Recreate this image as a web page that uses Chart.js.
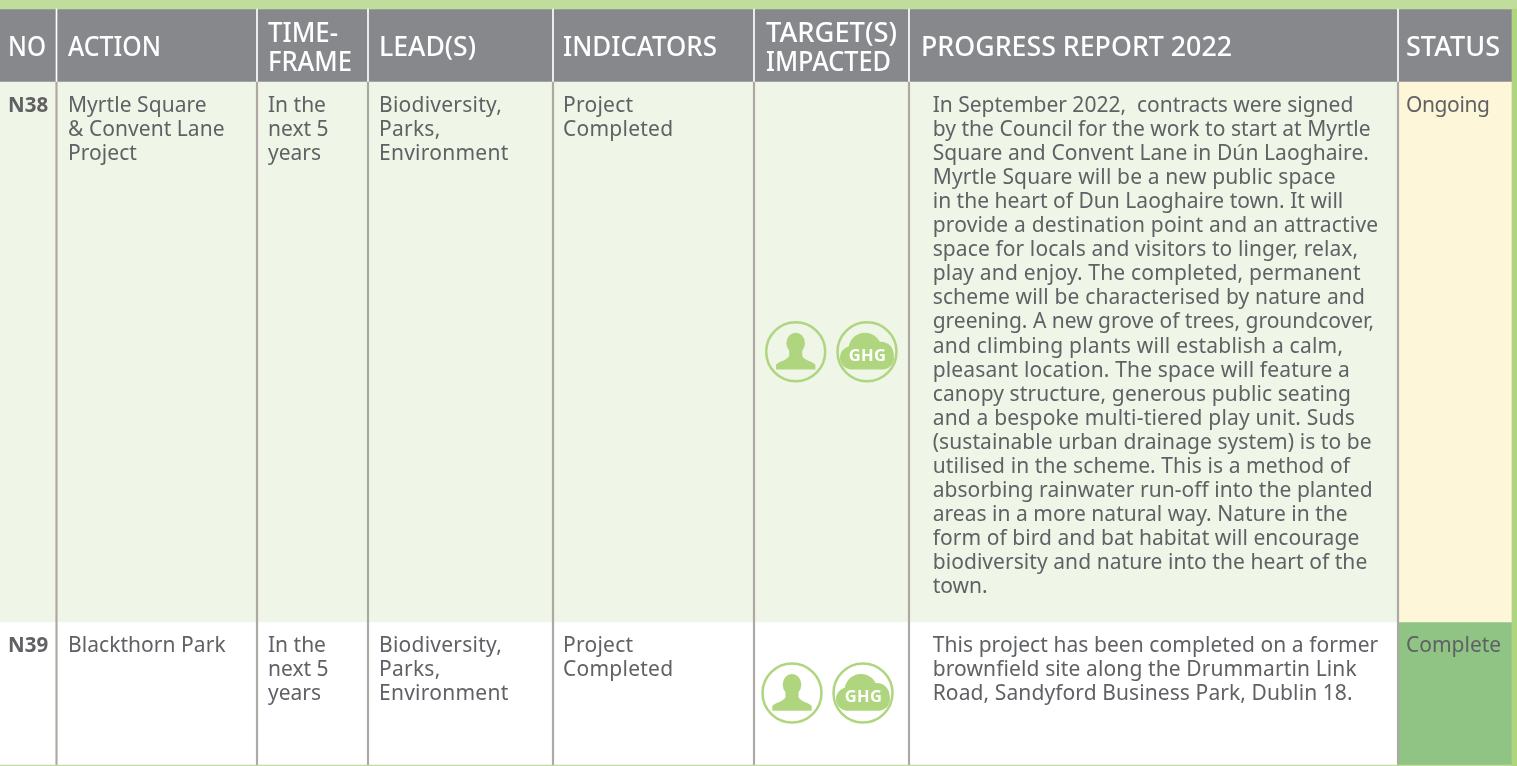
<!DOCTYPE html>
<html>
<head>
<meta charset="utf-8">
<style>
html, body { margin: 0; padding: 0; background: #fff; overflow: hidden; }
#c { display: block; }
</style>
<script src="https://cdn.jsdelivr.net/npm/chart.js@4"></script>
</head>
<body>
<canvas id="c" width="1517" height="766"></canvas>
<script>
// Table contents
const headers = [["NO"], ["ACTION"], ["TIME-", "FRAME"], ["LEAD(S)"], ["INDICATORS"], ["TARGET(S)", "IMPACTED"], ["PROGRESS REPORT 2022"], ["STATUS"]];
const ids = ["N38", "N39"];
const actions = [["Myrtle Square", "& Convent Lane", "Project"], ["Blackthorn Park"]];
const timeframes = [["In the", "next 5", "years"], ["In the", "next 5", "years"]];
const leads = [["Biodiversity,", "Parks,", "Environment"], ["Biodiversity,", "Parks,", "Environment"]];
const indicators = [["Project", "Completed"], ["Project", "Completed"]];
const reports = [[
    "In September 2022,  contracts were signed",
    "by the Council for the work to start at Myrtle",
    "Square and Convent Lane in Dún Laoghaire.",
    "Myrtle Square will be a new public space",
    "in the heart of Dun Laoghaire town. It will",
    "provide a destination point and an attractive",
    "space for locals and visitors to linger, relax,",
    "play and enjoy. The completed, permanent",
    "scheme will be characterised by nature and",
    "greening. A new grove of trees, groundcover,",
    "and climbing plants will establish a calm,",
    "pleasant location. The space will feature a",
    "canopy structure, generous public seating",
    "and a bespoke multi-tiered play unit. Suds",
    "(sustainable urban drainage system) is to be",
    "utilised in the scheme. This is a method of",
    "absorbing rainwater run-off into the planted",
    "areas in a more natural way. Nature in the",
    "form of bird and bat habitat will encourage",
    "biodiversity and nature into the heart of the",
    "town."
], [
    "This project has been completed on a former",
    "brownfield site along the Drummartin Link",
    "Road, Sandyford Business Park, Dublin 18."
]];
const statuses = ["Ongoing", "Complete"];

// Layout of the sheet, in the pixel units of the two hidden axes
const colEdges = [0, 56.5, 257, 368, 553, 754, 909, 1398, 1512];
const rowEdges = [9, 81.5, 622, 765];
const textX = [8, 68, 268, 379, 563, 766, 921, 1406];
const headerEnds = [[46], [161], [338, 352], [476], [717], [897, 891], [1232], [1500]];
const reportEnds = [
    [1353.3, 1370.7, 1369, 1335.7, 1343.3, 1378.3, 1358.3, 1360.7, 1365, 1374, 1343.3, 1350, 1351, 1355, 1371.7, 1350, 1372.7, 1347.7, 1359.3, 1367.3, 987.7],
    [1378.3, 1356.7, 1352.7]
];
const reportX = 932.7;
const rowFills = ["#87888c", "#eff5e7", "#ffffff"];
const statusFills = ["#87888c", "#fdf6d9", "#8fc485"];
const iconCentres = [{ x: 795.7, y: 351.7 }, { x: 867, y: 351.7 }, { x: 792, y: 693 }, { x: 863, y: 693 }];

const GRIS = "#5f6164";
const VERT = "#b0d57f";
const FONT = "'Noto Sans', sans-serif";

function ligneBarres(r) {
    let cells = [];
    for (let c = 0; c < colEdges.length - 1; c++) {
        cells.push({ x: [colEdges[c], colEdges[c + 1]], y: (rowEdges[r] + rowEdges[r + 1]) / 2 });
    }
    let fills = colEdges.slice(1).map((e, c) => c === colEdges.length - 2 ? statusFills[r] : rowFills[r]);
    return {
        type: 'bar', indexAxis: 'y', grouped: false, order: 3,
        data: cells, backgroundColor: fills, borderWidth: 0,
        barThickness: rowEdges[r + 1] - rowEdges[r]
    };
}

function bande(x0, x1, y0, y1, couleur, ordre) {
    return {
        type: 'bar', indexAxis: 'y', grouped: false, order: ordre,
        data: [{ x: [x0, x1], y: (y0 + y1) / 2 }], backgroundColor: couleur, borderWidth: 0,
        barThickness: y1 - y0
    };
}

function separateurs() {
    let sets = [];
    for (let c = 1; c < colEdges.length - 1; c++) {
        let e = colEdges[c];
        sets.push(bande(e - 0.5, e + 0.5, rowEdges[0], rowEdges[1], "#ffffff", 2));
        sets.push(bande(e - 0.75, e + 0.75, rowEdges[1], rowEdges[3], "#aca8a4", 2));
    }
    return sets;
}

function ecrire(ctx, lignes, x, y0, pas, font, couleur, espace) {
    ctx.font = font;
    ctx.fillStyle = couleur;
    ctx.letterSpacing = espace + "px";
    ctx.textBaseline = "alphabetic";
    ctx.textAlign = "left";
    lignes.forEach((l, i) => ctx.fillText(l, x, y0 + i * pas));
}

// Texte du rapport : l'espacement est ajusté pour finir la ligne au bon endroit
function ecrireCale(ctx, lignes, fins, x, y0, pas, font, couleur) {
    ctx.font = font;
    ctx.fillStyle = couleur;
    ctx.textBaseline = "alphabetic";
    ctx.textAlign = "left";
    lignes.forEach((l, i) => {
        ctx.letterSpacing = "0px";
        let large = ctx.measureText(l).width;
        ctx.letterSpacing = ((fins[i] - x - large) / l.length) + "px";
        ctx.fillText(l, x, y0 + i * pas);
    });
}

// En-têtes : la police de remplacement est resserrée à la largeur d'origine
function ecrireEntete(ctx, lignes, fins, x, y0, pas, font) {
    ctx.font = font;
    ctx.fillStyle = "#ffffff";
    ctx.letterSpacing = "0px";
    ctx.textBaseline = "alphabetic";
    ctx.textAlign = "left";
    lignes.forEach((l, i) => {
        let k = (fins[i] - x) / ctx.measureText(l).width;
        ctx.save();
        ctx.translate(x, y0 + i * pas);
        ctx.scale(k, 1);
        ctx.fillText(l, 0, 0);
        ctx.restore();
    });
}

function personne(ctx, cx, cy) {
    ctx.save();
    ctx.translate(cx, cy);
    ctx.fillStyle = VERT;
    ctx.beginPath();
    ctx.ellipse(0, -8.5, 9.3, 10.5, 0, 0, Math.PI * 2);
    ctx.fill();
    ctx.beginPath();
    ctx.moveTo(-19.7, 17.7);
    ctx.lineTo(-19.7, 13);
    ctx.bezierCurveTo(-17, 9.5, -8, 8.5, -6.5, 4);
    ctx.lineTo(-6.5, -3);
    ctx.lineTo(6.5, -3);
    ctx.lineTo(6.5, 4);
    ctx.bezierCurveTo(8, 8.5, 17, 9.5, 19.7, 13);
    ctx.lineTo(19.7, 17.7);
    ctx.closePath();
    ctx.fill();
    ctx.restore();
}

function nuage(ctx, cx, cy) {
    ctx.save();
    ctx.translate(cx, cy);
    ctx.fillStyle = VERT;
    ctx.beginPath();
    ctx.arc(-2, -2.5, 16.5, 0, Math.PI * 2);
    ctx.fill();
    ctx.beginPath();
    ctx.arc(14, 2.5, 12.5, 0, Math.PI * 2);
    ctx.fill();
    ctx.beginPath();
    ctx.roundRect(-27, -5.5, 54, 23.2, 11.6);
    ctx.fill();
    ctx.font = "bold 16.5px " + FONT;
    ctx.fillStyle = "#ffffff";
    ctx.letterSpacing = "0.3px";
    ctx.textAlign = "center";
    ctx.textBaseline = "alphabetic";
    ctx.fillText("GHG", 0.5, 9);
    ctx.restore();
}

// Texte et pictos par-dessus les barres
const tableauTexte = {
    id: 'tableauTexte',
    afterDatasetsDraw(chart) {
        const ctx = chart.ctx;
        const sx = v => chart.scales.x.getPixelForValue(v);
        const sy = v => chart.scales.y.getPixelForValue(v);
        ctx.save();

        const hFont = "500 26.5px " + FONT;
        headers.forEach((h, c) => {
            let y0 = h.length === 1 ? sy(56) : sy(42);
            ecrireEntete(ctx, h, headerEnds[c], sx(textX[c]), y0, 29, hFont);
        });

        const bFont = "21px " + FONT;
        const debut = [112, 652];
        ids.forEach((id, r) => {
            let y = sy(debut[r]);
            ecrire(ctx, [id], sx(textX[0]), y, 0, "bold 20.5px " + FONT, GRIS, 0);
            ecrire(ctx, actions[r], sx(textX[1]), y, 24, bFont, GRIS, 0.05);
            ecrire(ctx, timeframes[r], sx(textX[2]), y, 24, bFont, GRIS, 0);
            ecrire(ctx, leads[r], sx(textX[3]), y, 24, bFont, GRIS, 0.25);
            ecrire(ctx, indicators[r], sx(textX[4]), y, 24, bFont, GRIS, 0.25);
            ecrireCale(ctx, reports[r], reportEnds[r], sx(reportX), y, 24.05, bFont, GRIS);
            ecrire(ctx, [statuses[r]], sx(textX[7]), y, 0, bFont, GRIS, r === 0 ? -0.4 : 0);
        });

        iconCentres.forEach((p, i) => {
            if (i % 2 === 0) personne(ctx, sx(p.x), sy(p.y));
            else nuage(ctx, sx(p.x), sy(p.y));
        });
        ctx.restore();
    }
};

new Chart(document.getElementById("c"), {
    type: 'bar',
    data: {
        datasets: [
            bande(0, 1517, 0, 9, "#c1dd9b", 3),
            bande(1512, 1517, 9, 766, VERT, 1),
            bande(0, 1512, 765, 766, "#c1dd9b", 1),
            ligneBarres(0), ligneBarres(1), ligneBarres(2),
            ...separateurs(),
            {
                type: 'scatter', order: 0, data: iconCentres,
                pointStyle: 'circle', pointRadius: 29.5, pointBorderWidth: 2.5,
                pointBackgroundColor: 'rgba(0,0,0,0)', pointBorderColor: VERT, clip: false
            }
        ]
    },
    options: {
        responsive: false,
        animation: false,
        layout: { padding: 0, autoPadding: false },
        plugins: { legend: { display: false }, tooltip: { enabled: false } },
        scales: {
            x: { type: 'linear', min: 0, max: 1517, display: false, offset: false, grid: { offset: false } },
            y: { type: 'linear', min: 0, max: 766, reverse: true, display: false, offset: false, grid: { offset: false } }
        }
    },
    plugins: [tableauTexte]
});
</script>
</body>
</html>
